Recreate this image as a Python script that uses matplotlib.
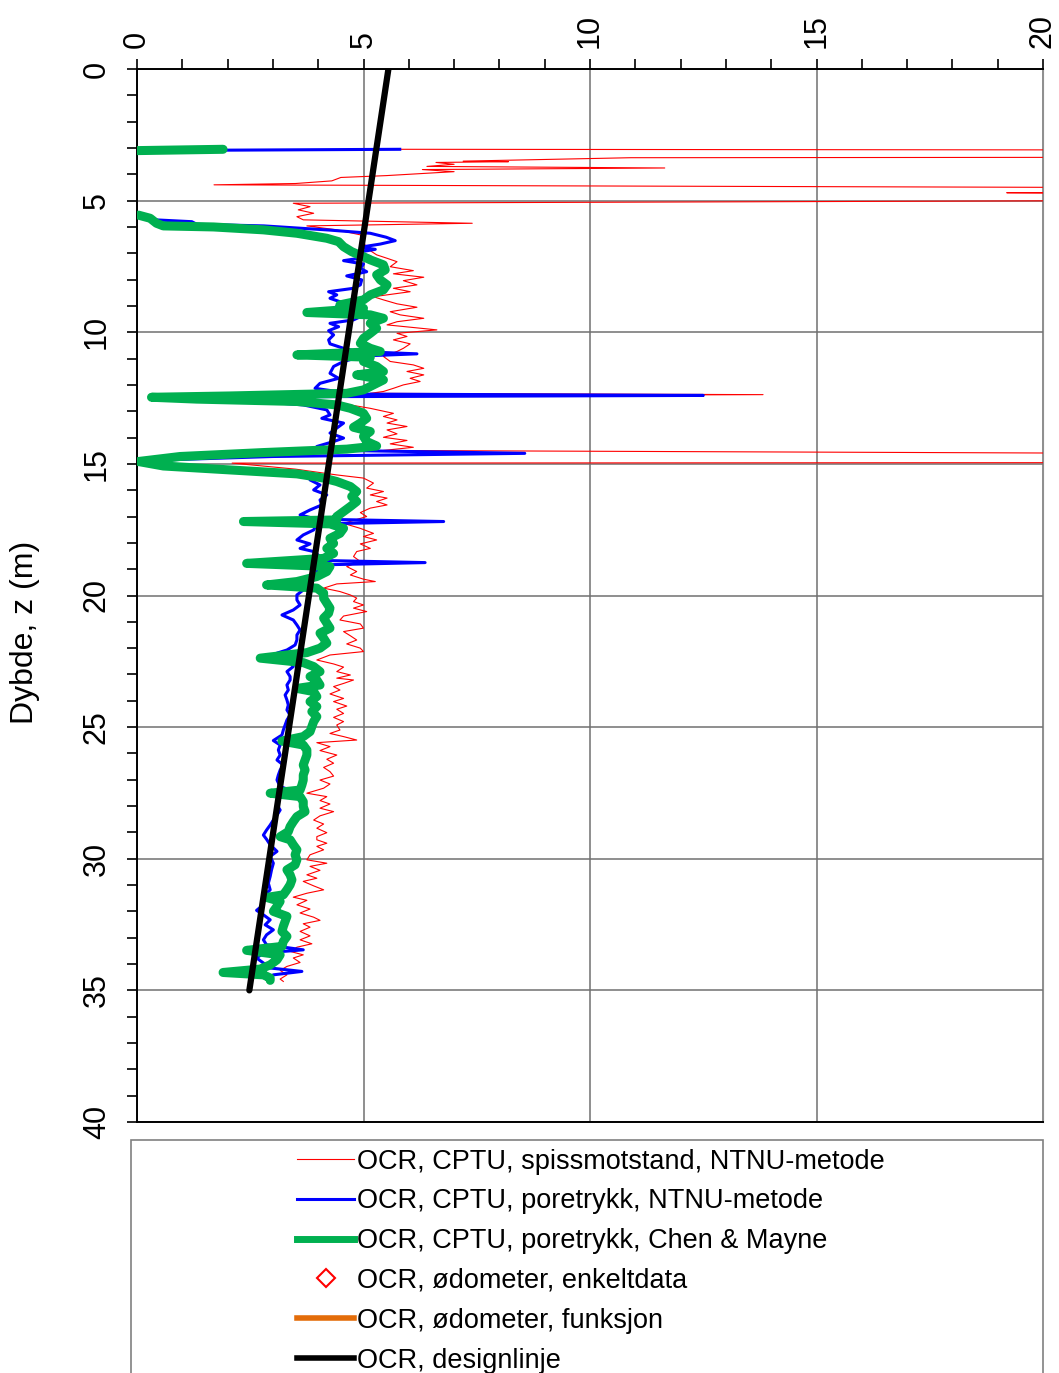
import numpy as np
import matplotlib
matplotlib.use("Agg")
import matplotlib.pyplot as plt
from matplotlib.patches import Rectangle
from matplotlib.lines import Line2D

plt.rcParams['font.family'] = ['Liberation Sans', 'DejaVu Sans']

NAN = np.nan

# -------------------------
# Data: (depth z [m], OCR)
# -------------------------
# OCR, CPTU, spissmotstand, NTNU-metode (red, thin)
ocr_qt = [
    (3.05, 5.8), (3.08, 25), (3.35, 25), (3.37, 10.9), (3.50, 7.2), (3.52, 8.2), (3.55, 6.6),
    (3.62, 7.0), (3.70, 6.4), (3.76, 11.65), (3.82, 6.3), (3.90, 7.0), (4.05, 5.5), (4.12, 4.5),
    (4.25, 4.3), (4.35, 3.5), (4.40, 1.7), (4.52, 25), (4.66, 25), (4.70, 19.2), (4.78, 25),
    (4.98, 25), (5.10, 3.45), (5.23, 3.82), (5.35, 3.56), (5.48, 3.90), (5.61, 3.53), (5.73, 3.67),
    (5.86, 7.4), (5.96, 3.75), (6.11, 4.41), (6.30, 4.93), (6.56, 5.0), (6.81, 5.07), (7.06, 5.29),
    (7.19, 5.52), (7.32, 5.74), (7.51, 5.59), (7.66, 6.10), (7.78, 5.66), (7.91, 6.33), (8.04, 5.88),
    (8.20, 6.18), (8.33, 5.66), (8.46, 6.03), (8.65, 5.22), (8.77, 5.44), (8.92, 5.74), (9.05, 6.18),
    (9.22, 5.59), (9.34, 5.81), (9.47, 6.33), (9.60, 5.74), (9.72, 5.52), (9.91, 6.62), (10.04, 5.74),
    (10.16, 5.96), (10.29, 5.66), (10.44, 6.03), (10.61, 5.88), (10.73, 5.74), (10.92, 5.44),
    (11.11, 5.59), (11.24, 6.10), (11.37, 6.33), (11.49, 5.96), (11.62, 6.33), (11.75, 6.03),
    (11.87, 6.25), (12.00, 5.88), (12.13, 5.66), (12.25, 5.44), (12.32, 5.15), (12.37, 13.82),
    (12.42, 4.5), (12.50, 2.6), (12.70, 4.5), (12.89, 5.15), (13.08, 5.66), (13.20, 5.44),
    (13.33, 5.74), (13.45, 5.52), (13.58, 5.96), (13.71, 5.52), (13.86, 5.74), (13.99, 5.44),
    (14.11, 5.96), (14.24, 5.59), (14.37, 6.10), (14.49, 5.44), (14.62, 25), (14.80, 25),
    (14.95, 25), (14.97, 2.1), (15.20, 3.5), (15.42, 4.41), (15.54, 5.0), (15.73, 5.22),
    (15.92, 5.07), (16.05, 5.44), (16.18, 5.15), (16.30, 5.52), (16.43, 5.29), (16.56, 5.52),
    (16.68, 5.15), (16.85, 4.93), (17.00, 5.07), (17.26, 4.56), (17.45, 4.93), (17.64, 5.22),
    (17.76, 5.0), (17.89, 5.29), (18.04, 4.93), (18.21, 5.15), (18.33, 4.85), (18.52, 4.78),
    (18.71, 4.93), (18.90, 4.63), (19.09, 4.85), (19.22, 4.71), (19.38, 5.0), (19.47, 5.26),
    (19.56, 4.41), (19.72, 4.12), (19.85, 4.48), (19.98, 4.71), (20.10, 4.85), (20.23, 4.78),
    (20.36, 5.0), (20.48, 4.78), (20.61, 5.07), (20.78, 4.56), (20.93, 4.48), (21.08, 4.93),
    (21.24, 5.0), (21.37, 4.56), (21.53, 4.71), (21.69, 4.85), (21.84, 4.63), (22.00, 4.93),
    (22.13, 5.0), (22.26, 4.26), (22.45, 3.97), (22.60, 4.34), (22.72, 4.56), (22.89, 4.41),
    (23.02, 4.71), (23.14, 4.41), (23.21, 4.78), (23.34, 4.56), (23.46, 4.34), (23.59, 4.48),
    (23.74, 4.26), (23.91, 4.56), (24.03, 4.34), (24.20, 4.63), (24.32, 4.41), (24.48, 4.56),
    (24.63, 4.34), (24.79, 4.56), (24.92, 4.41), (25.11, 4.48), (25.24, 4.26), (25.36, 4.56),
    (25.49, 4.85), (25.59, 3.97), (25.74, 4.26), (25.89, 4.04), (26.06, 4.41), (26.22, 4.19),
    (26.37, 4.34), (26.53, 4.12), (26.69, 4.26), (26.86, 4.34), (27.01, 4.04), (27.16, 4.26),
    (27.32, 4.12), (27.51, 3.75), (27.64, 4.19), (27.79, 4.04), (27.92, 4.26), (28.08, 4.04),
    (28.21, 4.34), (28.37, 4.04), (28.53, 3.90), (28.68, 4.12), (28.84, 3.97), (29.01, 4.19),
    (29.16, 3.97), (29.28, 3.97), (29.41, 4.19), (29.53, 3.97), (29.66, 4.12), (29.85, 3.82),
    (30.04, 3.75), (30.17, 4.19), (30.29, 3.82), (30.44, 4.04), (30.61, 3.75), (30.74, 3.97),
    (30.86, 3.67), (31.03, 3.90), (31.18, 4.12), (31.31, 3.75), (31.46, 3.45), (31.58, 3.75),
    (31.75, 3.53), (31.91, 3.82), (32.06, 3.60), (32.22, 3.90), (32.34, 4.04), (32.47, 3.67),
    (32.60, 3.82), (32.76, 3.60), (32.93, 3.82), (33.08, 3.60), (33.23, 3.86), (33.36, 3.53),
    (33.52, 3.38), (33.65, 3.67), (33.77, 3.45), (33.94, 3.60), (34.09, 3.31), (34.24, 3.16),
    (34.41, 3.31), (34.57, 3.16), (34.66, 3.23),
]

# OCR, CPTU, poretrykk, NTNU-metode (blue)
ocr_u2 = [
    (3.05, 5.8), (3.10, 0.0), (NAN, NAN),
    (5.55, 0.03), (5.73, 0.40), (5.80, 1.21), (5.90, 1.32), (5.96, 2.8), (6.12, 4.26), (6.24, 5.15),
    (6.39, 5.5), (6.52, 5.7), (6.65, 5.37), (6.77, 4.93), (6.85, 5.26), (6.97, 4.85), (7.13, 5.15),
    (7.28, 4.56), (7.41, 5.0), (7.57, 4.93), (7.70, 5.07), (7.86, 4.63), (8.01, 4.96), (8.20, 4.93),
    (8.33, 4.78), (8.46, 4.23), (8.58, 4.41), (8.71, 4.26), (8.84, 4.48), (9.00, 4.41), (9.22, 4.78),
    (9.41, 4.93), (9.53, 4.78), (9.66, 4.26), (9.79, 4.45), (9.94, 4.23), (10.10, 4.34),
    (10.29, 4.23), (10.44, 4.26), (10.61, 4.56), (10.73, 4.85), (10.82, 6.18), (10.90, 5.0),
    (11.11, 4.56), (11.30, 4.34), (11.56, 4.26), (11.75, 4.45), (11.94, 4.04), (12.13, 3.93),
    (12.25, 4.41), (12.35, 5.0), (12.40, 12.5), (12.45, 3.5), (12.52, 1.8), (12.62, 2.6),
    (12.76, 3.67), (12.95, 4.19), (13.14, 4.26), (13.27, 4.08), (13.45, 4.56), (13.64, 4.41),
    (13.83, 4.26), (14.02, 4.56), (14.15, 4.34), (14.34, 3.97), (14.49, 4.56), (14.60, 8.56),
    (14.72, 3.0), (14.85, 0.6), (14.95, 0.15), (15.05, 0.3), (15.15, 1.0), (15.30, 3.0),
    (15.45, 3.9), (15.61, 3.82), (15.80, 4.04), (15.99, 3.90), (16.18, 4.19), (16.37, 4.04),
    (16.56, 4.08), (16.75, 3.82), (16.94, 3.60), (17.10, 3.97), (17.19, 6.77), (17.28, 3.97),
    (17.51, 3.90), (17.70, 3.67), (17.89, 3.53), (18.04, 3.82), (18.21, 3.60), (18.33, 3.90),
    (18.52, 4.04), (18.67, 4.12), (18.75, 6.36), (18.84, 3.97), (19.03, 3.97), (19.22, 3.97),
    (19.41, 3.53), (19.60, 3.60), (19.79, 3.67), (19.98, 3.53), (20.17, 3.53), (20.36, 3.60),
    (20.55, 3.45), (20.74, 3.20), (20.93, 3.45), (21.12, 3.53), (21.31, 3.60), (21.50, 3.53),
    (21.69, 3.53), (21.88, 3.49), (22.07, 3.31), (22.19, 3.09), (22.32, 3.31), (22.51, 3.38),
    (22.70, 3.45), (22.89, 3.31), (23.08, 3.38), (23.21, 3.38), (23.40, 3.31), (23.59, 3.34),
    (23.78, 3.27), (23.97, 3.31), (24.16, 3.34), (24.35, 3.31), (24.54, 3.38), (24.73, 3.31),
    (24.92, 3.27), (25.11, 3.23), (25.30, 3.20), (25.51, 3.01), (25.68, 3.16), (25.87, 3.12),
    (26.06, 3.16), (26.25, 3.09), (26.44, 3.23), (26.63, 3.16), (26.82, 3.12), (27.01, 3.09),
    (27.26, 3.16), (27.39, 3.38), (27.58, 3.09), (27.77, 3.12), (27.96, 3.09), (28.15, 3.16),
    (28.34, 3.09), (28.53, 3.01), (28.72, 2.94), (28.91, 2.86), (29.10, 2.79), (29.26, 2.86),
    (29.47, 2.94), (29.72, 3.09), (29.91, 2.94), (30.17, 3.01), (30.42, 2.97), (30.67, 2.94),
    (30.93, 2.90), (31.18, 2.94), (31.37, 2.83), (31.56, 2.79), (31.75, 2.79), (31.96, 2.64),
    (32.13, 2.79), (32.32, 2.94), (32.51, 2.83), (32.70, 3.01), (32.89, 2.86), (33.08, 2.79),
    (33.27, 2.86), (33.46, 3.67), (33.58, 2.79), (33.77, 2.64), (33.96, 2.79), (34.15, 2.94),
    (34.28, 3.64), (34.41, 3.01), (34.57, 2.86), (34.66, 2.94),
]

# OCR, CPTU, poretrykk, Chen & Mayne (green, thick)
ocr_cm = [
    (3.05, 1.9), (3.10, 0.0), (NAN, NAN),
    (5.55, 0.03), (5.67, 0.29), (5.86, 0.43), (5.96, 0.58), (6.00, 1.69), (6.11, 2.79), (6.24, 3.53),
    (6.43, 4.19), (6.56, 4.45), (6.75, 4.56), (6.94, 4.74), (7.13, 5.0), (7.25, 5.15), (7.44, 5.44),
    (7.63, 5.48), (7.82, 5.29), (8.01, 5.37), (8.20, 5.52), (8.39, 5.44), (8.58, 5.15), (8.77, 5.0),
    (8.96, 4.48), (9.09, 5.0), (9.25, 3.75), (9.34, 5.15), (9.47, 5.44), (9.66, 5.15), (9.85, 5.29),
    (10.04, 5.15), (10.23, 5.0), (10.42, 4.93), (10.61, 5.15), (10.73, 5.37), (10.86, 3.53),
    (10.95, 5.15), (11.11, 5.0), (11.30, 5.29), (11.49, 5.44), (11.62, 4.85), (11.81, 5.44),
    (12.00, 5.22), (12.19, 5.0), (12.32, 4.63), (12.42, 2.05), (12.47, 0.32), (12.54, 1.32),
    (12.63, 3.53), (12.76, 4.41), (12.89, 4.71), (13.08, 5.0), (13.27, 5.07), (13.45, 4.93),
    (13.61, 4.78), (13.77, 5.15), (13.96, 5.0), (14.15, 5.07), (14.32, 5.29), (14.44, 4.63),
    (14.57, 2.79), (14.72, 0.95), (14.91, 0.03), (15.08, 0.58), (15.23, 2.05), (15.38, 3.53),
    (15.54, 4.12), (15.67, 4.41), (15.86, 4.71), (16.05, 4.85), (16.24, 4.74), (16.43, 4.85),
    (16.62, 4.71), (16.81, 4.56), (17.00, 4.41), (17.13, 4.41), (17.19, 2.35), (17.28, 4.26),
    (17.45, 4.56), (17.64, 4.48), (17.83, 4.26), (18.02, 4.34), (18.21, 4.19), (18.40, 4.34),
    (18.59, 4.12), (18.78, 2.42), (18.90, 4.26), (19.09, 4.19), (19.28, 3.97), (19.47, 3.53),
    (19.60, 2.86), (19.72, 3.97), (19.91, 4.12), (20.10, 4.12), (20.29, 4.19), (20.48, 4.26),
    (20.67, 4.23), (20.86, 4.12), (21.05, 4.19), (21.24, 4.26), (21.43, 4.04), (21.62, 4.12),
    (21.81, 4.19), (22.00, 4.04), (22.17, 3.75), (22.38, 2.72), (22.55, 3.67), (22.70, 3.90),
    (22.89, 4.04), (23.08, 3.82), (23.21, 3.97), (23.40, 4.04), (23.53, 3.53), (23.65, 3.90),
    (23.84, 3.97), (24.03, 3.82), (24.22, 3.97), (24.41, 3.86), (24.60, 3.97), (24.79, 3.90),
    (24.98, 3.86), (25.17, 3.82), (25.36, 3.67), (25.53, 3.20), (25.68, 3.67), (25.87, 3.75),
    (26.06, 3.75), (26.25, 3.71), (26.44, 3.67), (26.63, 3.71), (26.82, 3.67), (27.01, 3.67),
    (27.20, 3.64), (27.39, 3.60), (27.51, 2.94), (27.64, 3.60), (27.83, 3.67), (28.02, 3.67),
    (28.21, 3.71), (28.40, 3.53), (28.59, 3.45), (28.78, 3.38), (28.97, 3.34), (29.16, 3.16),
    (29.28, 3.38), (29.47, 3.45), (29.66, 3.53), (29.85, 3.49), (30.04, 3.53), (30.23, 3.49),
    (30.42, 3.31), (30.61, 3.38), (30.80, 3.42), (30.99, 3.38), (31.18, 3.31), (31.37, 3.23),
    (31.47, 2.86), (31.62, 3.16), (31.81, 3.09), (32.00, 3.01), (32.19, 3.31), (32.38, 3.27),
    (32.57, 3.23), (32.76, 3.20), (32.95, 3.31), (33.14, 3.23), (33.33, 3.20), (33.48, 2.42),
    (33.65, 3.16), (33.84, 3.09), (34.03, 2.94), (34.19, 2.72), (34.32, 1.9), (34.41, 2.79),
    (34.53, 2.94), (34.62, 2.94),
]

# OCR, designlinje (black)
design_z = [0.0, 35.0]
design_ocr = [5.55, 2.48]

labels = [
    "OCR, CPTU, spissmotstand, NTNU-metode",
    "OCR, CPTU, poretrykk, NTNU-metode",
    "OCR, CPTU, poretrykk, Chen & Mayne",
    "OCR, ødometer, enkeltdata",
    "OCR, ødometer, funksjon",
    "OCR, designlinje",
]

W, H = 1059, 1373
fig = plt.figure(figsize=(W / 100, H / 100), dpi=100)
ax = fig.add_axes([137 / W, 1 - 1122 / H, (1043 - 137) / W, (1122 - 69) / H])

qt = np.array(ocr_qt)
u2 = np.array(ocr_u2)
cm = np.array(ocr_cm)

ax.plot(qt[:, 1], qt[:, 0], color='#FF0000', lw=0.8, zorder=3)
ax.plot(u2[:, 1], u2[:, 0], color='#0000FF', lw=2.2, zorder=4)
ax.plot(cm[:, 1], cm[:, 0], color='#00B050', lw=6.5, zorder=5, solid_capstyle='round')
ax.plot(design_ocr, design_z, color='black', lw=4.5, zorder=6, solid_capstyle='round')

ax.set_xlim(0, 20)
ax.set_ylim(40, 0)

ax.xaxis.tick_top()
ax.set_xticks(np.arange(0, 21, 5))
ax.set_xticks(np.arange(0, 21, 1), minor=True)
ax.set_yticks(np.arange(0, 41, 5))
ax.set_yticks(np.arange(0, 41, 1), minor=True)
ax.tick_params(axis='x', which='both', direction='out', length=7, width=1.2,
               labelsize=22, pad=8, labelrotation=90)
ax.tick_params(axis='y', which='both', direction='out', length=7, width=1.2,
               labelsize=22, pad=11, labelrotation=90)
for lab in ax.get_yticklabels():
    lab.set_va('center')

ax.grid(True, which='major', color='#707070', lw=1.1)
ax.set_axisbelow(True)
for side in ['top', 'left', 'bottom']:
    ax.spines[side].set_linewidth(1.4)
ax.spines['right'].set_color('#909090')

fig.text(25 / W, 1 - 632 / H, "Dybde, z (m)", rotation=90, ha='center', va='center', fontsize=23)

# legend box (cut off at the bottom of the figure)
fig.patches.append(Rectangle((131 / W, -0.05), (1043 - 131) / W, 0.05 + 1 - 1140 / H,
                             transform=fig.transFigure, fill=False, edgecolor='#808080', lw=1.2))

handles = [
    Line2D([], [], color='#FF0000', lw=0.8),
    Line2D([], [], color='#0000FF', lw=2.2),
    Line2D([], [], color='#00B050', lw=5),
    Line2D([], [], color='#FF0000', marker='D', markersize=9, markerfacecolor='white',
           markeredgewidth=1.5, ls='none'),
    Line2D([], [], color='#E36C09', lw=4),
    Line2D([], [], color='black', lw=4),
]
fig.legend(handles, labels, loc='upper center', bbox_to_anchor=(591 / W, 1 - 1135 / H),
           frameon=False, fontsize=19.5, handlelength=2.1, handletextpad=0.1,
           labelspacing=0.51, borderpad=0)

fig.savefig("out.png", dpi=100)
